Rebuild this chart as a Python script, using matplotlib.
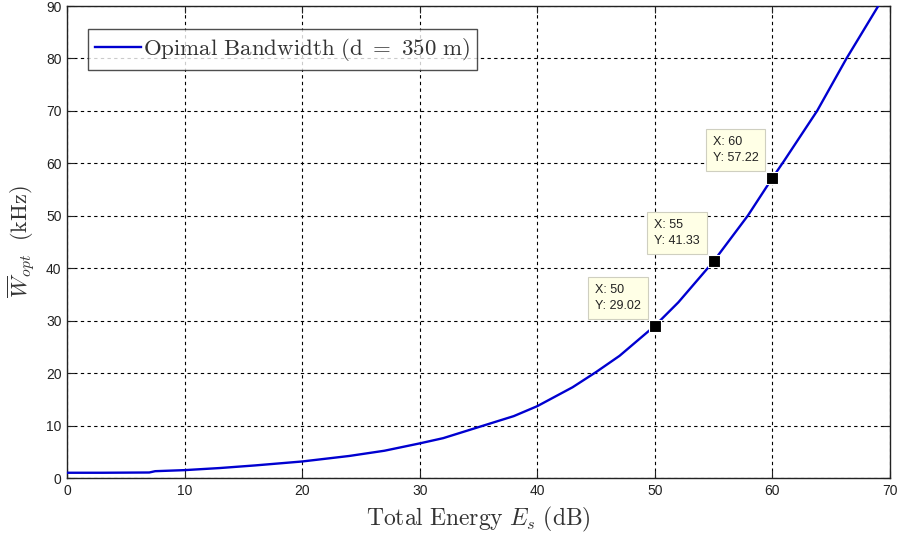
import matplotlib
matplotlib.use("Agg")
import matplotlib.pyplot as plt

plt.rcParams["mathtext.fontset"] = "cm"

# Optimal bandwidth vs. total energy
energy_db = [0, 3, 7, 7.5, 10, 13, 16, 20, 24, 27, 30, 32, 35, 38, 40, 43, 45, 47,
             50, 52, 55, 57.9, 60, 61, 63.8, 66.3, 69, 70]
bandwidth_khz = [1.0, 1.0, 1.05, 1.3, 1.5, 1.9, 2.4, 3.15, 4.2, 5.2, 6.6, 7.6, 9.7, 11.8,
                 13.7, 17.3, 20.2, 23.3, 29.02, 33.5, 41.33, 50.0, 57.22, 60.5, 70.0,
                 80.0, 90.0, 93.5]

# Data tips
tip_x = [50, 55, 60]
tip_y = [29.02, 41.33, 57.22]

x_ticks = [0, 10, 20, 30, 40, 50, 60, 70]
y_ticks = [0, 10, 20, 30, 40, 50, 60, 70, 80, 90]

fig = plt.figure(figsize=(8.99, 5.36), dpi=100)
ax = fig.add_axes([67 / 899, 58 / 536, 823 / 899, 472 / 536])

ax.plot(energy_db, bandwidth_khz, color="#0000d0", lw=1.7,
        label=r"$\mathrm{Opimal\ Bandwidth\ (d\ =\ 350\ m)}$", zorder=3)

ax.set_xlim(0, 70)
ax.set_ylim(0, 90)
ax.set_xticks(x_ticks)
ax.set_yticks(y_ticks)

ax.grid(True, color="black", linestyle=(0, (3, 3)), linewidth=0.8)
ax.tick_params(direction="in", length=5, width=0.8, top=True, right=True,
               labelsize=10, colors="#222222", pad=4)
for lab in ax.get_xticklabels() + ax.get_yticklabels():
    lab.set_fontfamily("Liberation Sans")
for sp in ax.spines.values():
    sp.set_linewidth(1.0)
    sp.set_color("#222222")

ax.set_xlabel(r"$\mathrm{Total\ Energy}\ E_s\ \mathrm{(dB)}$", fontsize=17,
              color="#333333", labelpad=5)
ax.set_ylabel(r"$\overline{W}_{opt}\ \ \mathrm{(kHz)}$", fontsize=16,
              color="#333333", labelpad=6)

leg = ax.legend(loc="upper left", bbox_to_anchor=(0.0255, 0.951), fontsize=16.5,
                frameon=True, fancybox=False, handlelength=2.0, handletextpad=0.1,
                borderpad=0.3, borderaxespad=0)
leg.get_frame().set_edgecolor("#222222")
leg.get_frame().set_linewidth(1.0)
for t in leg.get_texts():
    t.set_color("#333333")

ax.scatter(tip_x, tip_y, marker="s", s=75, color="black", edgecolors="white",
           linewidths=0.8, zorder=5)
for xv, yv in zip(tip_x, tip_y):
    ax.annotate(f"X: {xv}\nY: {yv:.2f}", xy=(xv, yv), xytext=(-14, 14),
                textcoords="offset pixels", ha="right", va="bottom", ma="left",
                fontsize=9, family="Liberation Sans", color="#222222",
                linespacing=1.45,
                bbox=dict(boxstyle="square,pad=0.55", facecolor="#ffffe6",
                          edgecolor="#cfcfc0", linewidth=0.8), zorder=6)

fig.savefig("out.png", dpi=100)
